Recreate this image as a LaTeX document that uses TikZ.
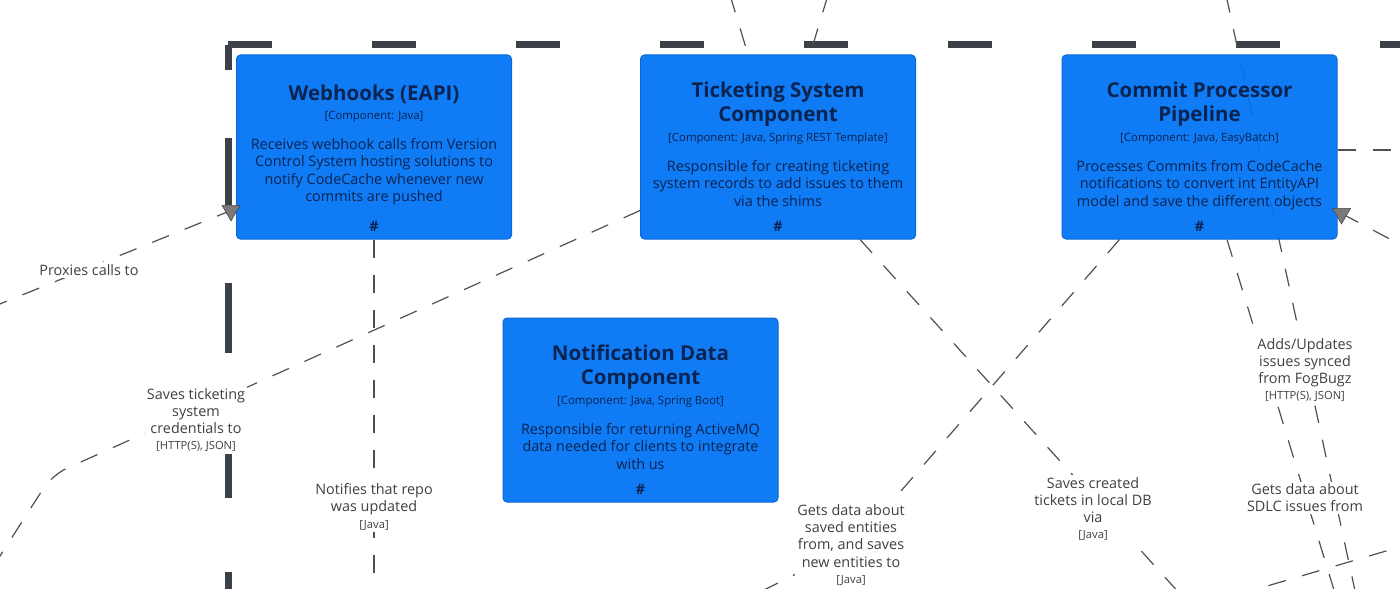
\documentclass[tikz,border=0pt]{standalone}
\usepackage{fontspec}
\setmainfont{Open Sans}
\usetikzlibrary{shapes.geometric,positioning,calc}
\definecolor{compcolor}{HTML}{0073F4}
\definecolor{compedge}{HTML}{0A68D6}
\definecolor{comptext}{HTML}{0B2350}
\definecolor{linkcolor}{HTML}{505050}
\definecolor{labelcolor}{HTML}{404040}
\definecolor{boundcolor}{HTML}{3C4049}
\definecolor{markcolor}{HTML}{7A7A7A}

\newcommand{\titlefont}{\fontsize{10.25}{12}\selectfont\bfseries}
\newcommand{\techfont}{\fontsize{5.7}{6.6}\selectfont}
\newcommand{\descfont}{\fontsize{7.2}{8.75}\selectfont\lineskiplimit=-20pt}
\newcommand{\labelfont}{\fontsize{7.2}{8.55}\selectfont\lineskiplimit=-20pt}
\newcommand{\techsmall}{\fontsize{5.6}{6.5}\selectfont}

\begin{document}
\begin{tikzpicture}[
    x=0.5pt, y=-0.5pt,
    compblock/.style={
        rectangle,
        draw=compedge,
        fill=compcolor,
        fill opacity=0.94,
        line width=0.5pt,
        rounded corners=2pt,
        minimum width=137.5pt,
        minimum height=92pt,
        inner sep=0pt
    },
    boxtext/.style={align=center, inner sep=0pt, text=comptext, font=\descfont},
    connline/.style={draw=linkcolor, line width=0.6pt, dash pattern=on 9pt off 8.5pt},
    boundary/.style={draw=boundcolor, line width=3.5pt},
    labelstyle/.style={fill=white, align=center, inner sep=1pt, text=labelcolor, font=\labelfont},
    arrowmark/.style={
        regular polygon,
        regular polygon sides=3,
        shape border rotate=180,
        fill=markcolor,
        draw=markcolor!60!black,
        line width=0.3pt,
        minimum size=10.4pt,
        inner sep=0pt
    }
]

\pgfdeclarelayer{background}
\pgfsetlayers{background,main}

\useasboundingbox (0,0) rectangle (1400,588);
\clip (0,0) rectangle (1400,588);

% --- COORDINATES & NODES ---

% Components
\node[compblock] (webhooks) at (374,147) {};
\node[compblock] (ticket) at (778,147) {};
\node[compblock] (commit) at (1199.5,147) {};
\node[compblock] (notif) at (640.5,410) {};

% Free ends of connectors
\coordinate (proxy_src) at (-10,308);
\coordinate (notify_end) at (374,600);
\coordinate (cred_bend) at (52,475);
\coordinate (cred_end) at (-25,595);
\coordinate (tickets_end) at (1190,605);
\coordinate (entity_bend) at (854,545);
\coordinate (entity_end) at (760,592);
\coordinate (sdlc_end) at (1337,600);
\coordinate (fog_src) at (1226,-5);
\coordinate (fog_end) at (1357,600);
\coordinate (top_a_src) at (730,-5);
\coordinate (top_b_src) at (828,-5);
\coordinate (right_end) at (1420,150);
\coordinate (right_src) at (1420,255);
\coordinate (low_src) at (1420,541);
\coordinate (low_end) at (1240,594);

% Arrow marks
\node[arrowmark] (webhooks_arrow) at ($(webhooks.south west)+(-5,-29)$) {};
\node[arrowmark] (commit_arrow) at ($(commit.south east)+(4,-26)$) {};

% --- BOUNDARY & PATHS (behind the boxes) ---
\begin{pgfonlayer}{background}
    \draw[boundary, dash pattern=on 22pt off 50pt] (228,45) -- (1420,45);
    \draw[boundary, dash pattern=on 12.5pt off 34pt on 33.5pt off 39pt on 35pt off 50pt on 22.5pt off 37pt on 30pt off 40pt]
        (228,45) -- (228,600);

    \draw[connline] (proxy_src) -- (webhooks_arrow);
    \draw[connline] (webhooks.south) -- (notify_end);
    \draw[connline, rounded corners=8pt] ($(ticket.south west)+(0,-29)$) -- (cred_bend) -- (cred_end);
    \draw[connline] ($(ticket.south)+(82,0)$) -- (tickets_end);
    \draw[connline] ($(commit.south west)+(58,0)$) -- (entity_bend) -- (entity_end);
    \draw[connline] ($(commit.south)+(27.5,0)$) -- (sdlc_end);
    \draw[connline] (fog_src) -- (fog_end);
    \draw[connline] (top_a_src) -- ($(ticket.north west)+(108,0)$);
    \draw[connline] (top_b_src) -- ($(ticket.north west)+(170,0)$);
    \draw[connline] ($(commit.east)+(0,3)$) -- (right_end);
    \draw[connline] (right_src) -- (commit_arrow);
    \draw[connline] (low_src) -- (low_end);
\end{pgfonlayer}

% --- BOX TEXTS ---
\node[boxtext, below=15pt of webhooks.north] (webhooks_text) {
    {\titlefont Webhooks (EAPI)}\\[0.55pt]
    {\techfont [Component: Java]}\\[6.25pt]
    Receives webhook calls from Version\\
    Control System hosting solutions to\\
    notify CodeCache whenever new\\
    commits are pushed\\[6.25pt]
    {\bfseries\#}
};

\node[boxtext, below=13.6pt of ticket.north] (ticket_text) {
    {\titlefont Ticketing System}\\[3.25pt]
    {\titlefont Component}\\[1pt]
    {\techfont [Component: Java, Spring REST Template]}\\[6.25pt]
    Responsible for creating ticketing\\
    system records to add issues to them\\
    via the shims\\[3.75pt]
    {\bfseries\#}
};

\node[boxtext, below=13.6pt of commit.north] (commit_text) {
    {\titlefont Commit Processor}\\[3.25pt]
    {\titlefont Pipeline}\\[1pt]
    {\techfont [Component: Java, EasyBatch]}\\[6.25pt]
    Processes Commits from CodeCache\\
    notifications to convert int EntityAPI\\
    model and save the different objects\\[3.75pt]
    {\bfseries\#}
};

\node[boxtext, below=13.6pt of notif.north] (notif_text) {
    {\titlefont Notification Data}\\[3.25pt]
    {\titlefont Component}\\[1pt]
    {\techfont [Component: Java, Spring Boot]}\\[6.25pt]
    Responsible for returning ActiveMQ\\
    data needed for clients to integrate\\
    with us\\[3.75pt]
    {\bfseries\#}
};

% --- LABELS ---
\node[labelstyle] (proxy_label) at (89,270) {Proxies calls to};
\node[labelstyle] (cred_label) at (196,420) {Saves ticketing\\system\\credentials to\\[-0.5pt]{\techsmall [HTTP(S), JSON]}};
\node[labelstyle] (notify_label) at (374,507) {Notifies that repo\\was updated\\[-0.5pt]{\techsmall [Java]}};
\node[labelstyle] (entity_label) at (851,545) {Gets data about\\saved entities\\from, and saves\\new entities to\\[-0.5pt]{\techsmall [Java]}};
\node[labelstyle] (tickets_label) at (1093,509) {Saves created\\tickets in local DB\\via\\[-0.5pt]{\techsmall [Java]}};
\node[labelstyle] (fog_label) at (1305,370) {Adds/Updates\\issues synced\\from FogBugz\\[-0.5pt]{\techsmall [HTTP(S), JSON]}};
\node[labelstyle] (sdlc_label) at (1305,498) {Gets data about\\SDLC issues from};

\end{tikzpicture}
\end{document}
